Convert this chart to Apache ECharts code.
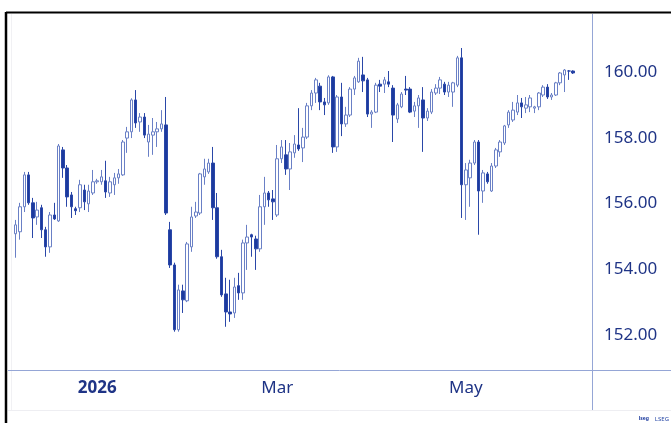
<!DOCTYPE html>
<html><head><meta charset="utf-8">
<script src="https://cdn.jsdelivr.net/npm/echarts@6/dist/echarts.min.js"></script>
<style>html,body{margin:0;padding:0;background:#fff}#c{width:671px;height:423px}</style>
</head><body><div id="c"></div>
<script>
const dates = [
'2025-12-05','2025-12-08','2025-12-09','2025-12-10','2025-12-11','2025-12-12','2025-12-15','2025-12-16','2025-12-17','2025-12-18','2025-12-19','2025-12-22','2025-12-23','2025-12-24','2025-12-25','2025-12-26','2025-12-29','2025-12-30','2025-12-31',
'2026-01-01','2026-01-02','2026-01-05','2026-01-06','2026-01-07','2026-01-08','2026-01-09','2026-01-12','2026-01-13','2026-01-14','2026-01-15','2026-01-16','2026-01-19','2026-01-20','2026-01-21','2026-01-22','2026-01-23','2026-01-26','2026-01-27','2026-01-28','2026-01-29','2026-01-30',
'2026-02-02','2026-02-03','2026-02-04','2026-02-05','2026-02-06','2026-02-09','2026-02-10','2026-02-11','2026-02-12','2026-02-13','2026-02-16','2026-02-17','2026-02-18','2026-02-19','2026-02-20','2026-02-23','2026-02-24','2026-02-25','2026-02-26','2026-02-27',
'2026-03-02','2026-03-03','2026-03-04','2026-03-05','2026-03-06','2026-03-09','2026-03-10','2026-03-11','2026-03-12','2026-03-13','2026-03-16','2026-03-17','2026-03-18','2026-03-19','2026-03-20','2026-03-23','2026-03-24','2026-03-25','2026-03-26','2026-03-27','2026-03-30','2026-03-31',
'2026-04-01','2026-04-02','2026-04-03','2026-04-06','2026-04-07','2026-04-08','2026-04-09','2026-04-10','2026-04-13','2026-04-14','2026-04-15','2026-04-16','2026-04-17','2026-04-20','2026-04-21','2026-04-22','2026-04-23','2026-04-24','2026-04-27','2026-04-28','2026-04-29','2026-04-30',
'2026-05-01','2026-05-04','2026-05-05','2026-05-06','2026-05-07','2026-05-08','2026-05-11','2026-05-12','2026-05-13','2026-05-14','2026-05-15','2026-05-18','2026-05-19','2026-05-20','2026-05-21','2026-05-22','2026-05-25','2026-05-26','2026-05-27','2026-05-28','2026-05-29',
'2026-06-01','2026-06-02','2026-06-03','2026-06-04','2026-06-05'
];
const opens = [155.08,155.14,155.9,156.87,156.02,155.59,155.87,155.2,154.68,155.65,155.47,157.63,157.08,156.26,155.84,155.87,156.41,155.99,156.32,156.66,156.66,156.69,156.32,156.57,156.78,156.87,157.99,158.18,159.15,158.48,158.63,157.87,158.08,158.18,158.27,158.39,155.2,154.13,152.16,153.34,153.04,154.68,155.62,155.71,156.81,156.96,157.23,155.87,154.38,153.25,152.7,152.67,153.5,153.28,154.8,155.05,154.92,154.62,155.9,156.32,156.14,155.65,157.36,157.48,157.05,157.54,157.78,157.69,158.02,158.97,159.36,159.57,159.09,159.06,159.85,157.72,159.24,158.42,158.69,159.48,159.7,159.91,159.76,158.72,158.78,159.63,159.63,159.7,159.51,158.57,158.94,159.48,159.48,158.81,158.97,159.15,158.6,158.78,159.36,159.51,159.63,159.39,159.39,159.6,160.43,156.57,156.78,157.23,157.87,156.38,156.9,156.38,157.14,157.57,157.84,158.39,158.54,158.78,159.06,158.9,158.94,158.9,158.94,159.3,159.54,159.24,159.3,159.67,159.91,160.03,160.03];
const closes = [155.35,155.9,156.87,156.02,155.56,155.8,155.2,154.68,155.65,155.53,157.75,157.08,156.2,155.9,155.78,156.57,156.05,156.38,156.66,156.69,156.81,156.35,156.66,156.78,156.9,157.87,158.18,159.15,158.45,158.63,158.08,158.11,158.18,158.27,158.42,155.71,154.13,152.16,153.37,153.07,154.77,155.59,155.74,156.9,157.05,157.23,155.87,154.38,153.22,152.7,152.64,153.46,153.28,154.8,154.98,154.98,154.62,155.9,156.32,156.11,156.05,157.36,157.72,157.05,157.57,157.81,157.66,158.02,158.97,159.36,159.76,159.09,159.0,159.85,157.72,159.24,158.42,158.69,159.48,159.82,160.33,159.73,158.72,158.78,159.6,159.57,159.76,159.63,158.69,159.0,159.33,159.45,158.78,158.97,159.21,158.6,158.81,159.39,159.51,159.76,159.39,159.6,159.67,160.43,156.57,157.02,157.23,157.87,156.38,156.93,156.66,157.14,157.63,157.87,158.36,158.78,158.84,159.06,158.94,159.0,159.21,158.94,159.36,159.54,159.24,159.3,159.67,159.97,160.06,160.03,159.97];
const lows = [154.35,154.9,155.74,155.96,154.95,155.35,154.95,154.38,154.5,155.5,155.44,156.78,155.9,155.56,155.65,155.74,155.8,155.74,156.26,156.6,156.57,156.17,156.2,156.26,156.6,156.84,157.54,157.99,158.3,158.18,157.99,157.42,157.48,157.72,158.18,155.65,154.04,152.1,152.1,152.67,153.0,154.53,155.56,155.65,156.57,156.9,155.5,154.32,153.16,152.25,152.4,152.52,153.07,153.07,153.98,154.38,153.98,154.53,155.35,155.9,155.5,155.59,157.23,156.87,156.41,157.39,157.6,157.26,157.96,158.84,159.06,158.84,158.69,159.0,157.54,157.57,158.05,158.33,158.63,159.3,159.67,159.39,158.63,158.3,158.75,159.39,159.36,159.54,157.87,158.45,158.9,159.3,158.75,158.63,158.3,157.57,158.51,158.72,159.3,159.33,159.3,159.24,158.94,159.54,155.56,155.5,155.9,157.17,155.05,156.02,156.6,156.35,157.08,157.42,157.78,158.3,158.48,158.69,158.6,158.75,158.78,158.75,158.84,159.24,159.18,159.15,159.27,159.6,159.39,159.76,159.94];
const highs = [155.5,156.02,156.96,156.96,156.17,156.05,155.96,155.29,155.74,156.02,157.81,157.72,157.17,156.35,155.9,156.72,156.57,156.57,157.02,156.75,157.02,157.3,156.81,156.93,157.05,157.93,158.33,159.2,159.45,158.75,158.75,158.39,158.6,158.48,158.84,159.24,155.44,154.2,153.53,153.53,154.83,155.9,156.05,156.93,157.36,157.36,157.72,156.32,154.59,153.74,153.68,153.74,153.89,154.9,155.35,155.08,155.02,156.26,156.81,156.38,156.41,157.78,157.93,157.93,157.84,158.08,158.9,158.3,159.06,159.45,159.82,159.67,159.21,159.9,159.88,159.3,159.67,158.94,159.54,159.88,160.43,160.46,159.82,158.84,159.67,159.76,159.85,160.03,159.6,159.06,159.39,159.88,159.54,159.09,159.3,159.54,158.9,159.48,159.63,159.85,159.7,159.7,159.7,160.49,160.73,157.23,157.33,157.93,157.93,157.02,156.96,157.23,157.69,157.93,158.39,158.84,159.09,159.3,159.21,159.24,159.3,158.97,159.39,159.6,159.63,159.36,159.7,160.0,160.09,160.06,160.05];
const yTicks = [152, 154, 156, 158, 160];
const monthLabels = {'2026-01-01': '2026', '2026-03-02': 'Mar', '2026-05-01': 'May'};

const ohlc = dates.map((d, i) => [opens[i], closes[i], lows[i], highs[i]]);
const navy = '#1f3486';
const chart = echarts.init(document.getElementById('c'), null, {renderer: 'canvas'});
chart.setOption({
  animation: false,
  backgroundColor: '#ffffff',
  grid: {left: 13.55, right: 95.8, top: 14, bottom: 53},
  xAxis: {
    type: 'category', data: dates, boundaryGap: true,
    axisLine: {show: false}, axisTick: {show: false}, splitLine: {show: false},
    axisLabel: {
      interval: (idx, val) => monthLabels[val] !== undefined,
      formatter: (val) => val === '2026-01-01' ? '{y|2026}' : (monthLabels[val] || ''),
      margin: 10, color: navy, fontFamily: 'Noto Sans', fontSize: 17,
      rich: {y: {fontWeight: 'bold', color: navy, fontFamily: 'Noto Sans', fontSize: 17}}
    }
  },
  yAxis: {
    type: 'value', position: 'right', offset: 16.8, scale: true,
    min: 150.935, max: 161.764,
    axisLine: {show: false}, axisTick: {show: false}, splitLine: {show: false},
    axisLabel: {
      customValues: yTicks, formatter: (v) => v.toFixed(2), margin: 12,
      color: navy, fontFamily: 'Noto Sans', fontSize: 17
    }
  },
  series: [{
    type: 'candlestick', data: ohlc, barWidth: 3,
    itemStyle: {color: '#ffffff', color0: '#1c3a9e', borderColor: '#6a80c6', borderColor0: '#2a47a8', borderWidth: 1}
  }],
  graphic: [
    {type: 'line', shape: {x1: 6, y1: 12.5, x2: 671, y2: 12.5}, style: {stroke: '#000', lineWidth: 2}},
    {type: 'line', shape: {x1: 6, y1: 12, x2: 6, y2: 423}, style: {stroke: '#000', lineWidth: 2.5}},
    {type: 'line', shape: {x1: 11.5, y1: 14, x2: 11.5, y2: 410}, style: {stroke: '#f1f1f4', lineWidth: 1}},
    {type: 'line', shape: {x1: 8, y1: 410.5, x2: 671, y2: 410.5}, style: {stroke: '#eeeef2', lineWidth: 1}},
    {type: 'line', shape: {x1: 8, y1: 370.5, x2: 671, y2: 370.5}, style: {stroke: '#95a6d6', lineWidth: 1}},
    {type: 'line', shape: {x1: 592.5, y1: 14, x2: 592.5, y2: 410}, style: {stroke: '#95a6d6', lineWidth: 1}},
    {type: 'text', right: 2, bottom: 1, style: {text: 'LSEG', fill: '#2a4aa8', font: '6px Noto Sans'}},
    {type: 'text', right: 22, bottom: 2, style: {text: 'lseg', fill: '#1c3a9e', font: 'bold 5px Noto Sans'}}
  ]
});
</script></body></html>
